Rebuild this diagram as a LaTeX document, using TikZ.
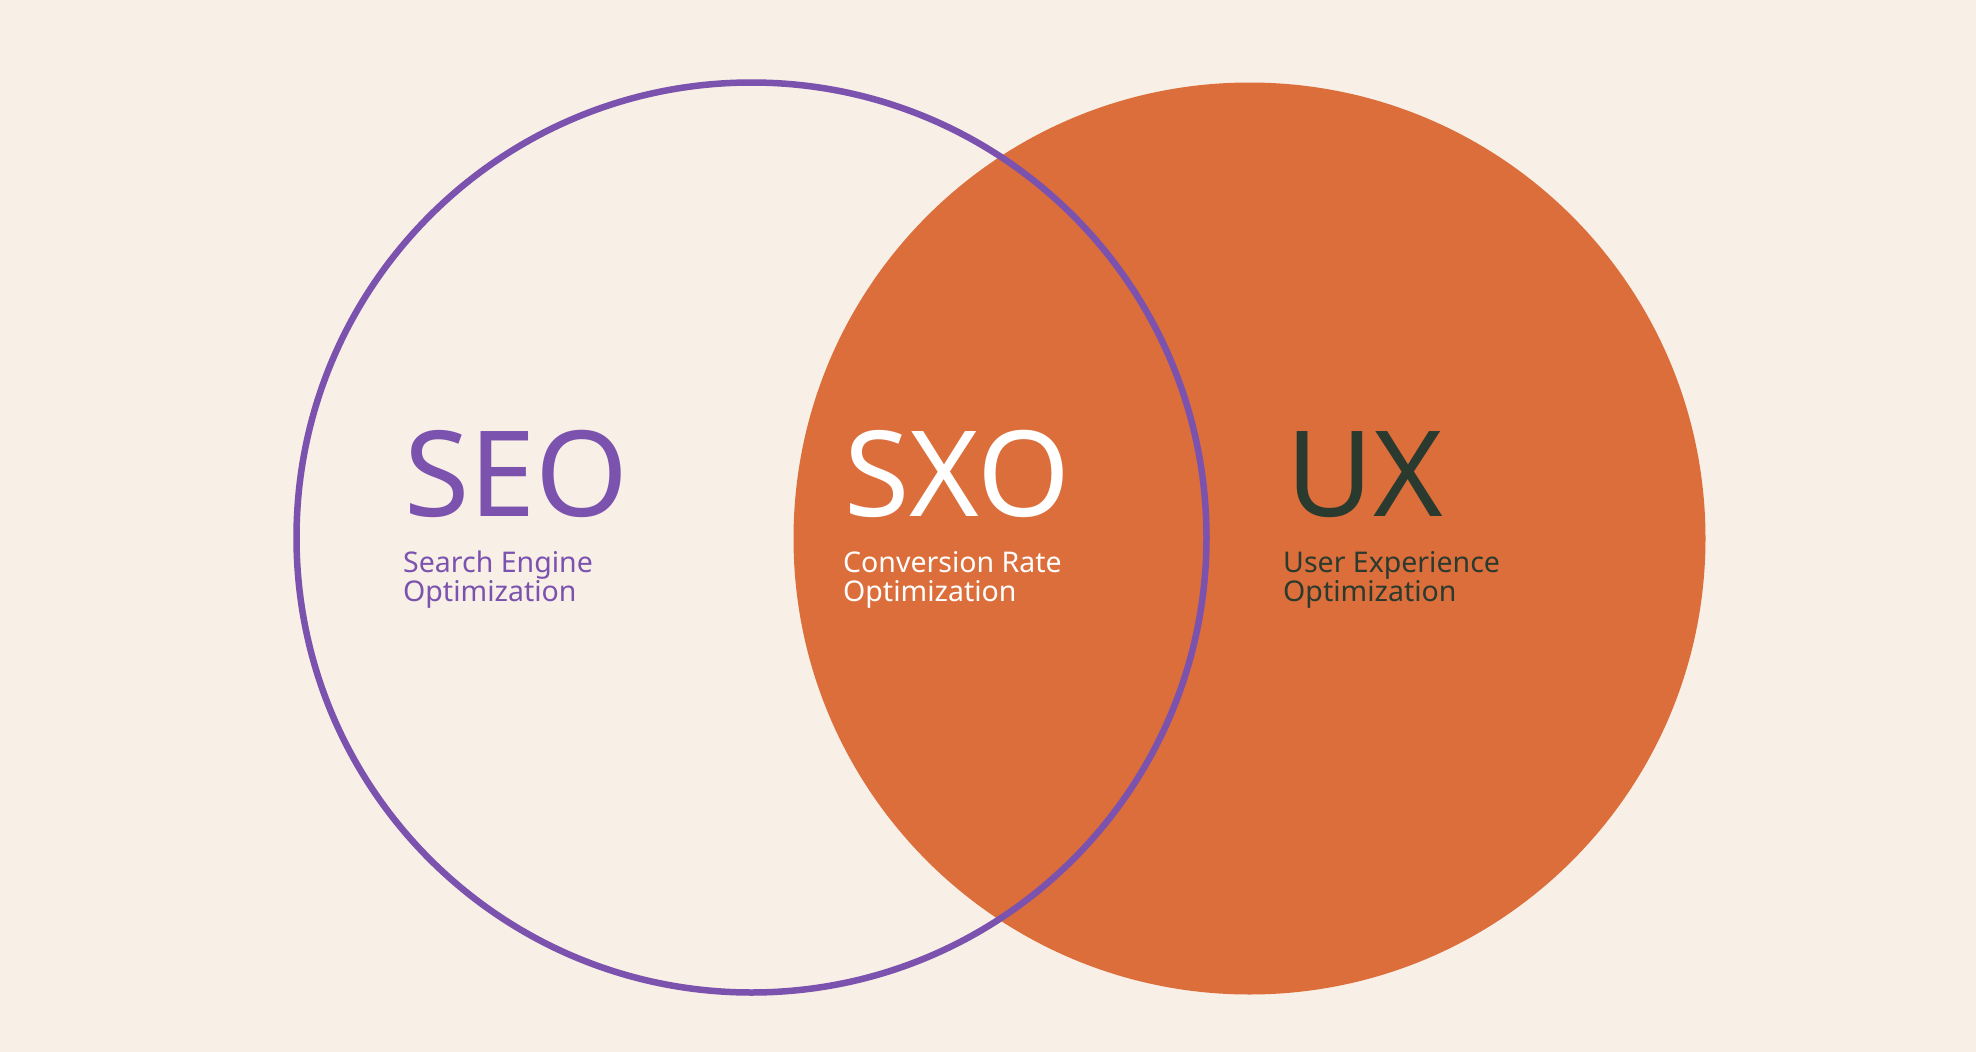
\documentclass[tikz,border=0pt]{standalone}
\usepackage{fontspec}
\setmainfont{Noto Sans}
\definecolor{bg}{HTML}{F8EFE6}
\definecolor{seo}{HTML}{7B52AE}
\definecolor{ux}{HTML}{DC6E3B}
\definecolor{dark}{HTML}{2A3A2E}
\tikzset{
  big/.style={inner sep=0pt, anchor=base west, font=\fontsize{119}{119}\selectfont},
  sub/.style={inner sep=0pt, anchor=base west, align=left, font=\fontsize{28.5}{29}\selectfont}
}
\begin{document}
\begin{tikzpicture}[x=1pt,y=-1pt]
\fill[bg] (0,0) rectangle (1976,1052);
\useasboundingbox (0,0) rectangle (1976,1052);
\coordinate (cl) at (751.5,537.5);
\coordinate (cr) at (1249.5,538.5);
\fill[ux] (cr) circle[radius=456];
\draw[seo, line width=6.5pt] (cl) circle[radius=455];
\node[big, text=seo] (seo) at (404,516) {SEO};
\node[sub, text=seo] (seosub) at (403,601) {Search Engine\\Optimization};
\node[big, text=white] (sxo) at (844,516) {SXO};
\node[sub, text=white] (sxosub) at (843,601) {Conversion Rate\\Optimization};
\node[big, text=dark] (ux) at (1286,516) {UX};
\node[sub, text=dark] (uxsub) at (1283,601) {User Experience\\Optimization};
\end{tikzpicture}
\end{document}
